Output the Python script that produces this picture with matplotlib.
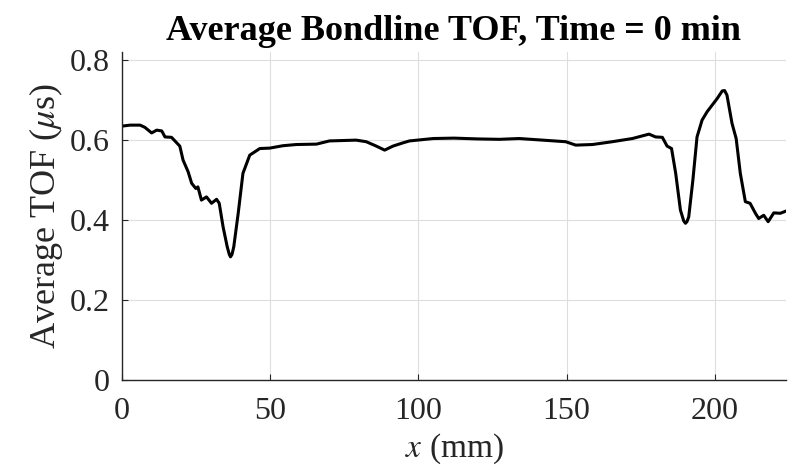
import numpy as np
import matplotlib.pyplot as plt

# values
x_mm = [0, 2.7, 6.1, 7.7, 10, 11.7, 13.4, 14.5, 16.7, 19.5, 20.6, 22.3, 23.5,
        24.9, 25.6, 26.8, 28.5, 30.2, 31.9, 32.8, 34.1, 35.5, 36.2, 36.6, 37.1,
        37.7, 39.2, 40.8, 43.1, 46.5, 49.8, 54.3, 58.8, 65.6, 70, 79, 82.4,
        85.8, 88.6, 91.4, 94.7, 97, 105, 112, 120, 127.3, 134, 141.9, 149.7,
        153.1, 158.7, 165.4, 172.2, 177.8, 180, 182.3, 183.9, 185.4, 186.8,
        188.4, 189.5, 190.1, 190.6, 191.2, 192.6, 194, 195.7, 197.4, 199.1,
        200.8, 202.5, 203.3, 204.1, 205.8, 207.2, 208.6, 210.3, 211.9, 213.7,
        214.8, 216.5, 218, 219.9, 222.1, 224]
tof = [0.635, 0.6375, 0.6375, 0.632, 0.618, 0.625, 0.623, 0.608, 0.607, 0.585,
       0.55, 0.521, 0.492, 0.479, 0.483, 0.45, 0.458, 0.442, 0.452, 0.442,
       0.383, 0.333, 0.314, 0.308, 0.314, 0.333, 0.417, 0.517, 0.5625, 0.579,
       0.58, 0.586, 0.589, 0.59, 0.598, 0.6, 0.596, 0.585, 0.575, 0.585,
       0.593, 0.598, 0.604, 0.605, 0.603, 0.602, 0.604, 0.6, 0.596, 0.5875,
       0.589, 0.596, 0.604, 0.615, 0.608, 0.607, 0.585, 0.579, 0.517, 0.425,
       0.398, 0.392, 0.396, 0.408, 0.5, 0.608, 0.65, 0.671, 0.6875, 0.704,
       0.723, 0.724, 0.7125, 0.642, 0.604, 0.517, 0.446, 0.442, 0.417, 0.404,
       0.412, 0.396, 0.418, 0.417, 0.4225]
xticks = [0, 50, 100, 150, 200]
yticks = [0, 0.2, 0.4, 0.6, 0.8]
ytick_labels = ['0', '0.2', '0.4', '0.6', '0.8']

plt.rcParams['font.family'] = 'Liberation Serif'
plt.rcParams['mathtext.fontset'] = 'stix'
axcol = (0.15, 0.15, 0.15)

fig = plt.figure(figsize=(7.98, 4.70), dpi=100)
ax = fig.add_axes([0.1529, 0.1915, 0.832, 0.6975])
ax.plot(x_mm, tof, color='k', lw=2.2)
ax.set_xlim(0, 224)
ax.set_ylim(0, 0.82)
ax.set_xticks(xticks)
ax.set_yticks(yticks)
ax.set_yticklabels(ytick_labels)
ax.grid(True, color='#dedede', lw=0.8)
ax.set_axisbelow(True)
for s in ['top', 'right']:
    ax.spines[s].set_visible(False)
for s in ['left', 'bottom']:
    ax.spines[s].set_color(axcol)
    ax.spines[s].set_linewidth(1)
ax.tick_params(direction='in', length=4, labelsize=23, colors=axcol)
ax.tick_params(axis='y', pad=9)
ax.tick_params(axis='x', pad=12)
ax.set_xlabel('$x$ (mm)', fontsize=24, color=axcol, labelpad=4)
ax.set_ylabel(r'Average TOF ($\mu$s)', fontsize=26, color=axcol, labelpad=3)
ax.set_title('Average Bondline TOF, Time = 0 min', fontsize=26,
             fontweight='bold', pad=9)
fig.savefig('out.png', dpi=100)
